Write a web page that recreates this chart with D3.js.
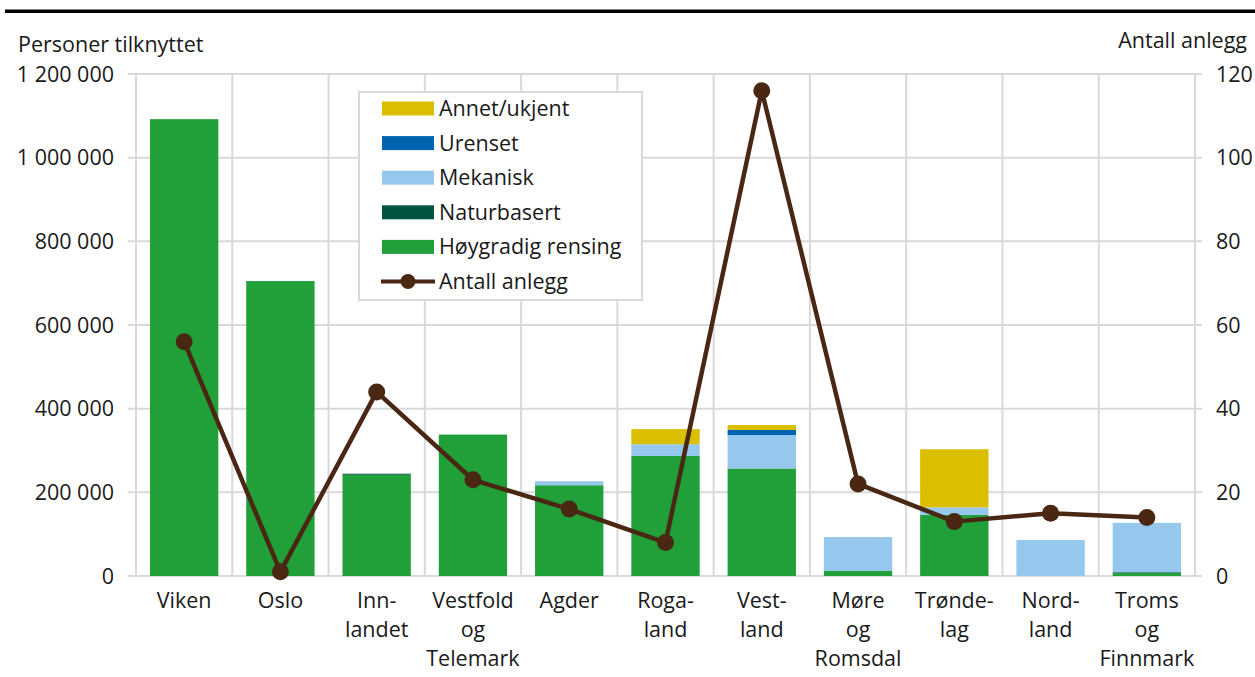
<!DOCTYPE html>
<html><head><meta charset="utf-8">
<script src="https://cdn.jsdelivr.net/npm/d3@7"></script>
<style>
html,body{margin:0;padding:0;background:#fff;}
svg{display:block;font-family:"Open Sans",sans-serif;}
</style></head>
<body>
<svg id="chart" width="1255" height="677"></svg>
<script>
const categories = ["Viken","Oslo","Innlandet","Vestfold og Telemark","Agder","Rogaland","Vestland","Møre og Romsdal","Trøndelag","Nordland","Troms og Finnmark"];
const categoryLabels = [["Viken"],["Oslo"],["Inn-","landet"],["Vestfold","og","Telemark"],["Agder"],["Roga-","land"],["Vest-","land"],["Møre","og","Romsdal"],["Trønde-","lag"],["Nord-","land"],["Troms","og","Finnmark"]];
const hoygradig  = [1092000, 705000, 242000, 338000, 217000, 287000, 257000, 12000, 146000, 0, 7000];
const naturbasert= [0, 0, 2500, 0, 0, 0, 0, 0, 0, 0, 2000];
const mekanisk   = [0, 0, 0, 0, 9500, 28000, 80000, 81000, 18000, 86000, 118000];
const urenset    = [0, 0, 0, 0, 0, 0, 12000, 0, 0, 0, 0];
const annet      = [0, 0, 0, 0, 0, 36000, 12000, 0, 139000, 0, 0];
const antallAnlegg = [56, 1, 44, 23, 16, 8, 116, 22, 13, 15, 14];
const leftTicks = [0, 200000, 400000, 600000, 800000, 1000000, 1200000];
const rightTicks = [0, 20, 40, 60, 80, 100, 120];
const seriesNames = ["Høygradig rensing","Naturbasert","Mekanisk","Urenset","Annet/ukjent"];
const seriesColors = ["#21a03a","#005542","#95c8ec","#0063b0","#d9bf00"];
const lineName = "Antall anlegg";
const lineColor = "#4a2713";

const svg = d3.select("#chart");
const x0 = 136, x1 = 1195, yTop = 74, yBot = 576;
const x = d3.scaleBand().domain(categories).range([x0, x1]).padding(0);
const yL = d3.scaleLinear().domain([0, 1200000]).range([yBot, yTop]);
const yR = d3.scaleLinear().domain([0, 120]).range([yBot, yTop]);
const grid = "#d9d9d9";

// top rule
svg.append("rect").attr("x",5).attr("y",9.5).attr("width",1250).attr("height",3.5).attr("fill","#000");

// horizontal grid
svg.append("g").selectAll("line").data(leftTicks).join("line")
  .attr("x1", x0-8).attr("x2", x1+7)
  .attr("y1", d=>yL(d)).attr("y2", d=>yL(d))
  .attr("stroke", grid).attr("stroke-width", 2);
// vertical grid
const vx = categories.map(c=>x(c)).concat([x1]);
svg.append("g").selectAll("line").data(vx).join("line")
  .attr("x1", d=>d).attr("x2", d=>d)
  .attr("y1", yTop).attr("y2", yBot+1)
  .attr("stroke", grid).attr("stroke-width", 2);

// stacked bars
const rows = categories.map((c,i)=>({cat:c, s0:hoygradig[i], s1:naturbasert[i], s2:mekanisk[i], s3:urenset[i], s4:annet[i]}));
const stack = d3.stack().keys(["s0","s1","s2","s3","s4"])(rows);
const bw = x.bandwidth()*0.71;
svg.append("g").selectAll("g").data(stack).join("g")
  .attr("fill", (d,i)=>seriesColors[i])
  .selectAll("rect").data(d=>d).join("rect")
  .attr("x", d=>x(d.data.cat)+(x.bandwidth()-bw)/2)
  .attr("width", bw)
  .attr("y", d=>yL(d[1]))
  .attr("height", d=>Math.max(0, yL(d[0])-yL(d[1])));

// line
const line = d3.line().x((d,i)=>x(categories[i])+x.bandwidth()/2).y(d=>yR(d));
svg.append("path").datum(antallAnlegg).attr("d", line)
  .attr("fill","none").attr("stroke", lineColor).attr("stroke-width", 4.5).attr("stroke-linejoin","round");
svg.append("g").selectAll("circle").data(antallAnlegg).join("circle")
  .attr("cx",(d,i)=>x(categories[i])+x.bandwidth()/2).attr("cy", d=>yR(d))
  .attr("r", 8.5).attr("fill", lineColor);

// axes labels
const fmt = d => d3.format(",")(d).replace(/,/g, "\u00a0");
const fs = 21.5, tc = "#1a1a1a";
svg.append("g").selectAll("text").data(leftTicks).join("text")
  .attr("x", 114).attr("y", d=>yL(d)).attr("dy","0.35em")
  .attr("text-anchor","end").attr("font-size",fs).attr("fill",tc).text(fmt);
svg.append("g").selectAll("text").data(rightTicks).join("text")
  .attr("x", 1216).attr("y", d=>yR(d)).attr("dy","0.35em")
  .attr("text-anchor","start").attr("font-size",fs).attr("fill",tc).text(d=>d);
svg.append("text").attr("x",18).attr("y",44).attr("dy","0.35em").attr("font-size",fs).attr("fill",tc).text("Personer tilknyttet");
svg.append("text").attr("x",1247).attr("y",40).attr("dy","0.35em").attr("text-anchor","end").attr("font-size",fs).attr("fill",tc).text("Antall anlegg");

// category labels
const cl = svg.append("g").selectAll("text").data(categories).join("text")
  .attr("text-anchor","middle").attr("font-size",fs).attr("fill",tc)
  .attr("transform", c=>`translate(${x(c)+x.bandwidth()/2},600)`);
cl.each(function(c,i){
  d3.select(this).selectAll("tspan").data(categoryLabels[i]).join("tspan")
    .attr("x",0).attr("y",(d,j)=>j*29).attr("dy","0.35em").text(d=>d);
});

// legend
const lg = svg.append("g");
lg.append("rect").attr("x",359).attr("y",92).attr("width",283).attr("height",208)
  .attr("fill","#fff").attr("stroke",grid).attr("stroke-width",2);
const legendItems = [
  {name: seriesNames[4], color: seriesColors[4]},
  {name: seriesNames[3], color: seriesColors[3]},
  {name: seriesNames[2], color: seriesColors[2]},
  {name: seriesNames[1], color: seriesColors[1]},
  {name: seriesNames[0], color: seriesColors[0]}
];
legendItems.forEach((it,i)=>{
  const cy = 108.5 + i*34.6;
  lg.append("rect").attr("x",382).attr("y",cy-7).attr("width",52).attr("height",14).attr("fill",it.color);
  lg.append("text").attr("x",439).attr("y",cy).attr("dy","0.35em").attr("font-size",fs).attr("fill",tc).text(it.name);
});
{
  const cy = 108.5 + 5*34.6;
  lg.append("line").attr("x1",381).attr("x2",435).attr("y1",cy).attr("y2",cy).attr("stroke",lineColor).attr("stroke-width",4);
  lg.append("circle").attr("cx",408).attr("cy",cy).attr("r",7.5).attr("fill",lineColor);
  lg.append("text").attr("x",439).attr("y",cy).attr("dy","0.35em").attr("font-size",fs).attr("fill",tc).text(lineName);
}
</script>
</body></html>
